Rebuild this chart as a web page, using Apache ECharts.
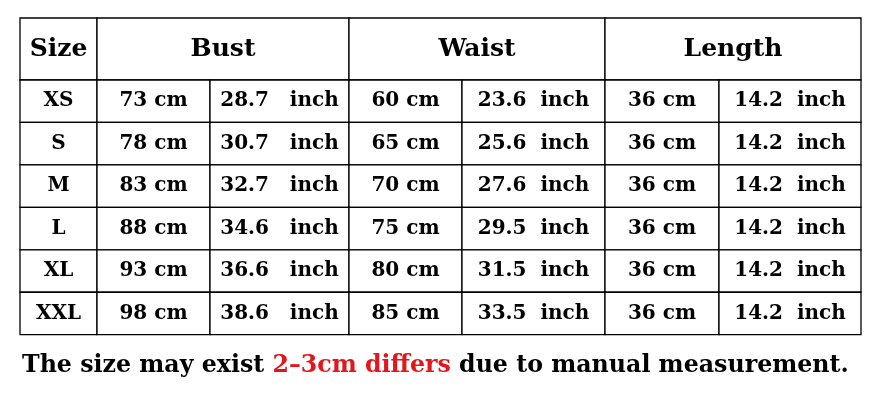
<!DOCTYPE html>
<html>
<head>
<meta charset="utf-8">
<script src="https://cdn.jsdelivr.net/npm/echarts@6/dist/echarts.min.js"></script>
<style>
html,body{margin:0;padding:0;background:#fff;}
#main{width:875px;height:403px;}
</style>
</head>
<body>
<div id="main"></div>
<script>
// ---- data ----
const headers = ['Size', 'Bust', 'Waist', 'Length'];
const sizes = ['XS', 'S', 'M', 'L', 'XL', 'XXL'];
const bustCm = [73, 78, 83, 88, 93, 98];
const bustInch = ['28.7', '30.7', '32.7', '34.6', '36.6', '38.6'];
const waistCm = [60, 65, 70, 75, 80, 85];
const waistInch = ['23.6', '25.6', '27.6', '29.5', '31.5', '33.5'];
const lengthCm = [36, 36, 36, 36, 36, 36];
const lengthInch = ['14.2', '14.2', '14.2', '14.2', '14.2', '14.2'];
const noteParts = ['The size may exist ', '2–3cm differs', ' due to manual measurement.'];

// ---- layout ----
const colW = [77, 113, 139, 113, 143, 114, 142];
const headerH = 62;
const rowH = 42.45;
const colX = [0];
colW.forEach(w => colX.push(colX[colX.length - 1] + w));
const totalW = colX[colX.length - 1];
const totalH = headerH + rowH * sizes.length;

const cells = [];
// header cells
const spans = [[0, 1], [1, 3], [3, 5], [5, 7]];
headers.forEach((h, i) => {
  cells.push({ value: [colX[spans[i][0]], colX[spans[i][1]], 0, headerH], text: h, header: true });
});
const cols = [
  sizes,
  bustCm.map(v => v + ' cm'),
  bustInch.map(v => v + '   inch'),
  waistCm.map(v => v + ' cm'),
  waistInch.map(v => v + '  inch'),
  lengthCm.map(v => v + ' cm'),
  lengthInch.map(v => v + '  inch')
];
sizes.forEach((s, r) => {
  cols.forEach((col, c) => {
    const y0 = headerH + r * rowH;
    cells.push({ value: [colX[c], colX[c + 1], y0, y0 + rowH], text: col[r], header: false });
  });
});

const FONT = '"DejaVu Serif", serif';

const chart = echarts.init(document.getElementById('main'), null, { renderer: 'canvas' });
chart.setOption({
  backgroundColor: '#fff',
  animation: false,
  title: {
    left: 17,
    top: 349,
    text: '{a|' + noteParts[0] + '}{b|' + noteParts[1] + '}{a|' + noteParts[2] + '}',
    textStyle: {
      rich: {
        a: { fontFamily: FONT, fontWeight: 'bold', fontSize: 23.7, color: '#000' },
        b: { fontFamily: FONT, fontWeight: 'bold', fontSize: 23.7, color: '#e3161d' }
      }
    }
  },
  grid: { left: 20, top: 18, width: totalW, height: totalH },
  xAxis: { type: 'value', min: 0, max: totalW, show: false },
  yAxis: { type: 'value', min: 0, max: totalH, inverse: true, show: false },
  series: [{
    type: 'custom',
    coordinateSystem: 'cartesian2d',
    data: cells.map(c => c.value),
    renderItem: function (params, api) {
      const cell = cells[params.dataIndex];
      const p0 = api.coord([api.value(0), api.value(2)]);
      const p1 = api.coord([api.value(1), api.value(3)]);
      return {
        type: 'group',
        children: [
          {
            type: 'rect',
            shape: { x: p0[0], y: p0[1], width: p1[0] - p0[0], height: p1[1] - p0[1] },
            style: { fill: '#fff', stroke: '#000', lineWidth: 1.3 }
          },
          {
            type: 'text',
            style: {
              text: cell.text,
              x: (p0[0] + p1[0]) / 2,
              y: (p0[1] + p1[1]) / 2,
              align: 'center',
              verticalAlign: 'middle',
              fontFamily: FONT,
              fontWeight: 'bold',
              fontSize: cell.header ? 25 : 20,
              fill: '#000'
            }
          }
        ]
      };
    }
  }]
});
</script>
</body>
</html>
